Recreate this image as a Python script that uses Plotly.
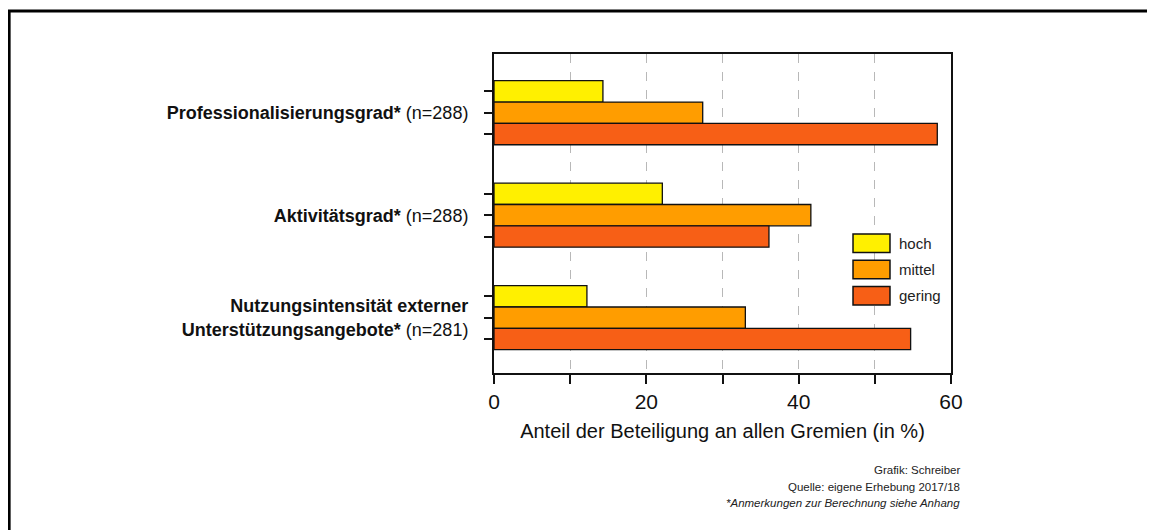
import plotly.graph_objects as go

# data
categories = [
    "<b>Professionalisierungsgrad*</b> (n=288)",
    "<b>Aktivitätsgrad*</b> (n=288)",
    "<b>Nutzungsintensität externer<br>Unterstützungsangebote*</b> (n=281)",
]
series_names = ["hoch", "mittel", "gering"]
hoch = [14.3, 22.1, 12.2]
mittel = [27.4, 41.6, 33.0]
gering = [58.2, 36.1, 54.7]
colors = ["#FFF000", "#FF9D00", "#F75F16"]
x_ticks = [0, 10, 20, 30, 40, 50, 60]
x_ticktext = ["0", "", "20", "", "40", "", "60"]
notes = [
    "Grafik: Schreiber",
    "Quelle: eigene Erhebung 2017/18",
    "<i>*Anmerkungen zur Berechnung siehe Anhang</i>",
]

FONT = "Liberation Sans, Arial"
bargap = 0.375
bw = (1 - bargap) / 3

fig = go.Figure()
ypos = list(range(len(categories)))
for name, vals, col in zip(series_names, [hoch, mittel, gering], colors):
    fig.add_trace(go.Bar(
        y=ypos, x=vals, orientation="h", name=name,
        marker=dict(color=col, line=dict(color="#111111", width=1.3)),
        showlegend=False,
    ))

# hand-made legend (wide swatches like the original)
shapes = []
annotations = []
leg_x0, leg_x1, leg_y, leg_step, leg_h = 0.7856, 0.8665, 0.4066, 0.0823, 0.029
for i, (name, col) in enumerate(zip(series_names, colors)):
    yc = leg_y - i * leg_step
    shapes.append(dict(type="rect", xref="paper", yref="paper",
                       x0=leg_x0, x1=leg_x1, y0=yc - leg_h, y1=yc + leg_h,
                       fillcolor=col, line=dict(color="#111111", width=1.5)))
    annotations.append(dict(xref="paper", yref="paper", x=0.882, y=yc,
                            text=name, showarrow=False, xanchor="left", yanchor="middle",
                            font=dict(family=FONT, size=15, color="#222222")))

# outer frame
shapes.append(dict(type="rect", xref="paper", yref="paper",
                   x0=-1.061, x1=1.7, y0=-0.6, y1=1.1348,
                   line=dict(color="black", width=3), layer="below"))

for i, t in enumerate(notes):
    annotations.append(dict(xref="paper", yref="paper", x=1.024, y=-0.304 - i * 0.052,
                            text=t, showarrow=False, xanchor="right", yanchor="middle",
                            font=dict(family=FONT, size=11.5, color="#222222")))

fig.update_layout(
    width=1155, height=530,
    margin=dict(l=486, r=212, t=46, b=165),
    paper_bgcolor="white", plot_bgcolor="white",
    barmode="group", bargap=bargap, bargroupgap=0,
    font=dict(family=FONT, color="#111111"),
    shapes=shapes, annotations=annotations,
    xaxis=dict(
        range=[0, 60], tickmode="array", tickvals=x_ticks, ticktext=x_ticktext,
        ticks="outside", ticklen=9, tickwidth=1.5, tickcolor="#111111",
        showline=True, linecolor="#111111", linewidth=2, mirror=True,
        showgrid=True, gridcolor="#b8b8b8", griddash="dash", gridwidth=1,
        zeroline=False, tickfont=dict(size=21),
        title=dict(text="Anteil der Beteiligung an allen Gremien (in %)",
                   font=dict(size=20), standoff=12),
    ),
    yaxis=dict(
        range=[2.54, -0.573], tickmode="array", tickvals=ypos, ticktext=categories,
        ticks="outside", ticklen=8, tickwidth=1.5, tickcolor="#111111",
        minor=dict(tickmode="array",
                   tickvals=[g + k * bw for g in ypos for k in (-1, 1)],
                   ticks="outside", ticklen=8, tickwidth=1.5, tickcolor="#111111",
                   showgrid=False),
        showline=True, linecolor="#111111", linewidth=2, mirror=True,
        showgrid=False, zeroline=False, tickfont=dict(size=18),
        ticklabelstandoff=12,
    ),
)

fig.write_html("out.html")
